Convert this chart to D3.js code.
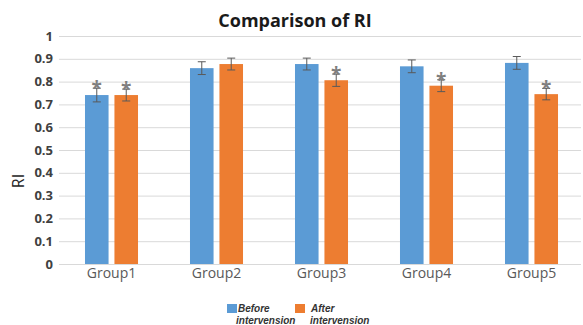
<!DOCTYPE html>
<html>
<head>
<meta charset="utf-8">
<script src="https://cdn.jsdelivr.net/npm/d3@7"></script>
<style>
  html, body { margin: 0; padding: 0; background: #fff; }
  svg { display: block; font-family: "Open Sans", "Noto Sans", sans-serif; }
</style>
</head>
<body>
<svg id="chart" width="583" height="325"></svg>
<script>
// RI by group, before and after intervention (mean ± error)
const groups = ["Group1", "Group2", "Group3", "Group4", "Group5"];
const seriesNames = ["Before intervension", "After intervension"];
const beforeValues = [0.741, 0.859, 0.877, 0.867, 0.882];
const afterValues  = [0.741, 0.877, 0.806, 0.782, 0.745];
const beforeErrors = [0.030, 0.028, 0.026, 0.028, 0.028];
const afterErrors  = [0.026, 0.026, 0.027, 0.026, 0.025];
// significance marks (true = asterisk drawn above the bar)
const beforeStars = [true, false, false, false, false];
const afterStars  = [true, false, true, true, true];
const yTicks = [0, 0.1, 0.2, 0.3, 0.4, 0.5, 0.6, 0.7, 0.8, 0.9, 1];

const colors = ["#5b9bd5", "#ed7d31"];

const svg = d3.select("#chart");
const margin = { left: 59, right: 0, top: 36, bottom: 61 };

const x0 = d3.scaleBand()
  .domain(groups)
  .range([margin.left, 584])
  .paddingInner(0.495)
  .paddingOuter(0.2475);

const x1 = d3.scaleBand()
  .domain([0, 1])
  .range([0, x0.bandwidth()])
  .paddingInner(0.2);

const y = d3.scaleLinear().domain([0, 1]).range([264, 36]);

// gridlines
svg.append("g")
  .selectAll("line")
  .data(yTicks)
  .join("line")
  .attr("x1", margin.left)
  .attr("x2", 581)
  .attr("y1", d => y(d) + 0.5)
  .attr("y2", d => y(d) + 0.5)
  .attr("stroke", "#d9d9d9")
  .attr("stroke-width", 1);

// y axis labels
const yAxis = d3.axisLeft(y).tickValues(yTicks).tickSize(0).tickPadding(6)
  .tickFormat(d => d3.format("~g")(d));
const yg = svg.append("g").attr("transform", `translate(${margin.left},0)`).call(yAxis);
yg.select(".domain").remove();
yg.selectAll("text")
  .attr("fill", "#404040")
  .attr("font-size", 13)
  .attr("font-weight", "bold")
  .attr("font-family", "Open Sans, sans-serif");

// x axis labels
const xAxis = d3.axisBottom(x0).tickSize(0).tickPadding(4);
const xg = svg.append("g").attr("transform", `translate(0,${264})`).call(xAxis);
xg.select(".domain").remove();
xg.selectAll("text")
  .attr("fill", "#595959")
  .attr("font-size", 14)
  .attr("font-family", "Open Sans, sans-serif");

// bars
const rows = groups.map((g, i) => ({
  group: g,
  items: [
    { s: 0, v: beforeValues[i], e: beforeErrors[i], star: beforeStars[i] },
    { s: 1, v: afterValues[i],  e: afterErrors[i],  star: afterStars[i] }
  ]
}));

const gg = svg.append("g")
  .selectAll("g")
  .data(rows)
  .join("g")
  .attr("transform", d => `translate(${x0(d.group)},0)`);

gg.selectAll("rect")
  .data(d => d.items)
  .join("rect")
  .attr("x", d => x1(d.s))
  .attr("width", x1.bandwidth())
  .attr("y", d => y(d.v))
  .attr("height", d => y(0) - y(d.v))
  .attr("fill", d => colors[d.s]);

// error bars
const cap = 4;
const cx = d => x1(d.s) + x1.bandwidth() / 2;
const eb = gg.selectAll("g.err")
  .data(d => d.items)
  .join("g")
  .attr("class", "err")
  .attr("stroke", "#595959")
  .attr("stroke-width", 1);
eb.append("line")
  .attr("x1", cx).attr("x2", cx)
  .attr("y1", d => y(d.v + d.e))
  .attr("y2", d => y(d.v - d.e));
eb.append("line")
  .attr("x1", d => cx(d) - cap).attr("x2", d => cx(d) + cap)
  .attr("y1", d => y(d.v + d.e)).attr("y2", d => y(d.v + d.e));
eb.append("line")
  .attr("x1", d => cx(d) - cap).attr("x2", d => cx(d) + cap)
  .attr("y1", d => y(d.v - d.e)).attr("y2", d => y(d.v - d.e));

// significance asterisks
gg.selectAll("text.star")
  .data(d => d.items.filter(it => it.star))
  .join("text")
  .attr("class", "star")
  .attr("x", cx)
  .attr("y", d => y(d.v + d.e) + 7)
  .attr("text-anchor", "middle")
  .attr("font-size", 19)
  .attr("font-weight", "bold")
  .attr("fill", "#7f7f7f")
  .text("*");

// title
svg.append("text")
  .attr("x", 295)
  .attr("y", 27)
  .attr("text-anchor", "middle")
  .attr("font-size", 18)
  .attr("font-weight", "bold")
  .attr("fill", "#1a1a1a")
  .text("Comparison of RI");

// y axis title
svg.append("text")
  .attr("transform", "translate(24,181) rotate(-90)")
  .attr("text-anchor", "middle")
  .attr("font-size", 16)
  .attr("fill", "#262626")
  .text("RI");

// legend
const legend = svg.append("g")
  .attr("font-family", "Liberation Sans, Arial, sans-serif")
  .attr("font-size", 10)
  .attr("font-weight", "bold")
  .attr("font-style", "italic")
  .attr("fill", "#333");
const legendItems = [
  { x: 227, words: seriesNames[0].split(" ") },
  { x: 295, words: seriesNames[1].split(" ") }
];
legendItems.forEach((it, i) => {
  legend.append("rect")
    .attr("x", it.x).attr("y", 304)
    .attr("width", 10).attr("height", 9)
    .attr("fill", colors[i]);
  legend.append("text")
    .attr("x", it.x + (i === 0 ? 11 : 16)).attr("y", 311.5)
    .text(it.words[0]);
  legend.append("text")
    .attr("x", it.x + (i === 0 ? 9 : 15)).attr("y", 323.5)
    .text(it.words[1]);
});
</script>
</body>
</html>
